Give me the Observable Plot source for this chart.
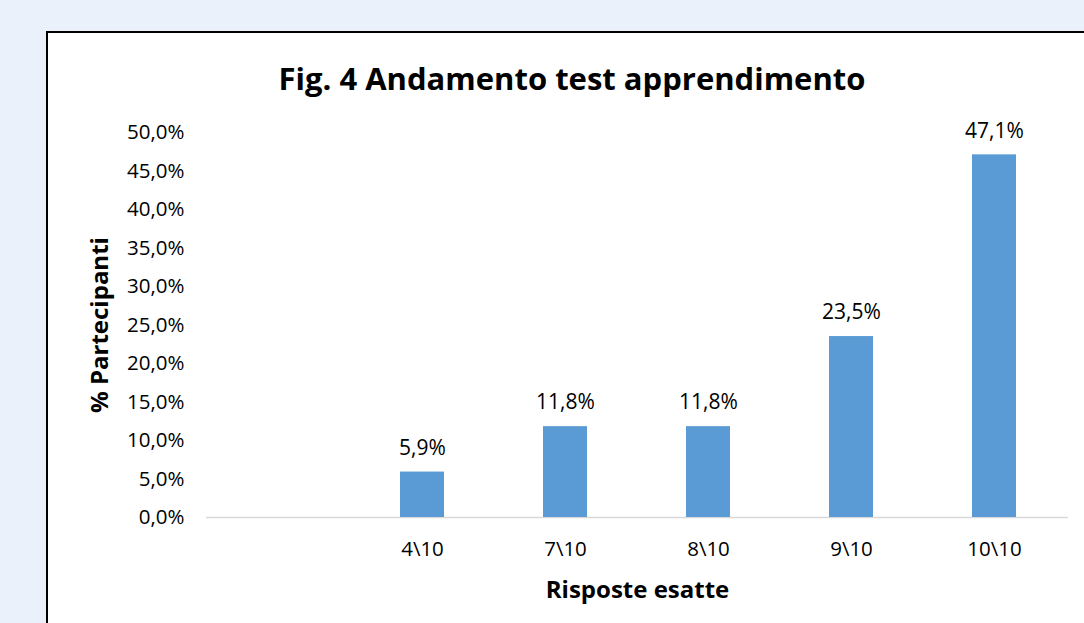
<!DOCTYPE html>
<html>
<head>
<meta charset="utf-8">
<script src="https://cdn.jsdelivr.net/npm/d3@7"></script>
<script src="https://cdn.jsdelivr.net/npm/@observablehq/plot@0.6"></script>
<style>
  html, body { margin: 0; padding: 0; width: 1084px; height: 623px; overflow: hidden; background: #EAF1FA; font-family: "Open Sans", sans-serif; }
  #box { position: absolute; left: 46px; top: 31px; width: 1100px; height: 700px; background: #fff; border: 2px solid #000; box-sizing: border-box; }
  #title { position: absolute; left: 0; top: 28px; width: 1048px; text-align: center; font-weight: bold; font-size: 31px; color: #000; line-height: 34px; }
  #chart { position: absolute; left: 0; top: 0; }
</style>
</head>
<body>
<div id="box">
  <div id="title">Fig. 4 Andamento test apprendimento</div>
  <div id="chart"></div>
</div>
<script>
const categories = ["", "4\\10", "7\\10", "8\\10", "9\\10", "10\\10"];
const answered = ["4\\10", "7\\10", "8\\10", "9\\10", "10\\10"];
const percent = [5.9, 11.8, 11.8, 23.5, 47.1];
const yTicks = [0, 5, 10, 15, 20, 25, 30, 35, 40, 45, 50];

const data = answered.map((c, i) => ({cat: c, value: percent[i]}));
const fmt = v => v.toFixed(1).replace(".", ",") + "%";

const chart = Plot.plot({
  width: 1036,
  height: 592,
  marginLeft: 158,
  marginRight: 16,
  marginTop: 99,
  marginBottom: 108,
  style: { fontFamily: "Open Sans, sans-serif", fontSize: "20.5px", color: "#000", background: "transparent", overflow: "visible" },
  x: { domain: categories, paddingInner: 0.69, paddingOuter: 0.345, label: "Risposte esatte", labelAnchor: "center", labelArrow: "none", labelOffset: 80, tickSize: 0, tickPadding: 24 },
  y: { domain: [0, 50], ticks: yTicks, tickFormat: fmt, label: "% Partecipanti", labelAnchor: "center", labelArrow: "none", labelOffset: 116, tickSize: 0, tickPadding: 22 },
  marks: [
    Plot.ruleY([0], { stroke: "#D9D9D9", strokeWidth: 1.5 }),
    Plot.barY(data, { x: "cat", y: "value", fill: "#5B9BD5" }),
    Plot.text(data, { x: "cat", y: "value", text: d => fmt(d.value), dy: -24, fill: "#000", fontSize: 21 })
  ]
});
document.getElementById("chart").appendChild(chart);
chart.querySelectorAll("g[aria-label='x-axis label'] text, g[aria-label='y-axis label'] text").forEach(t => {
  t.setAttribute("font-weight", "bold");
  t.setAttribute("font-size", "24px");
});
</script>
</body>
</html>
